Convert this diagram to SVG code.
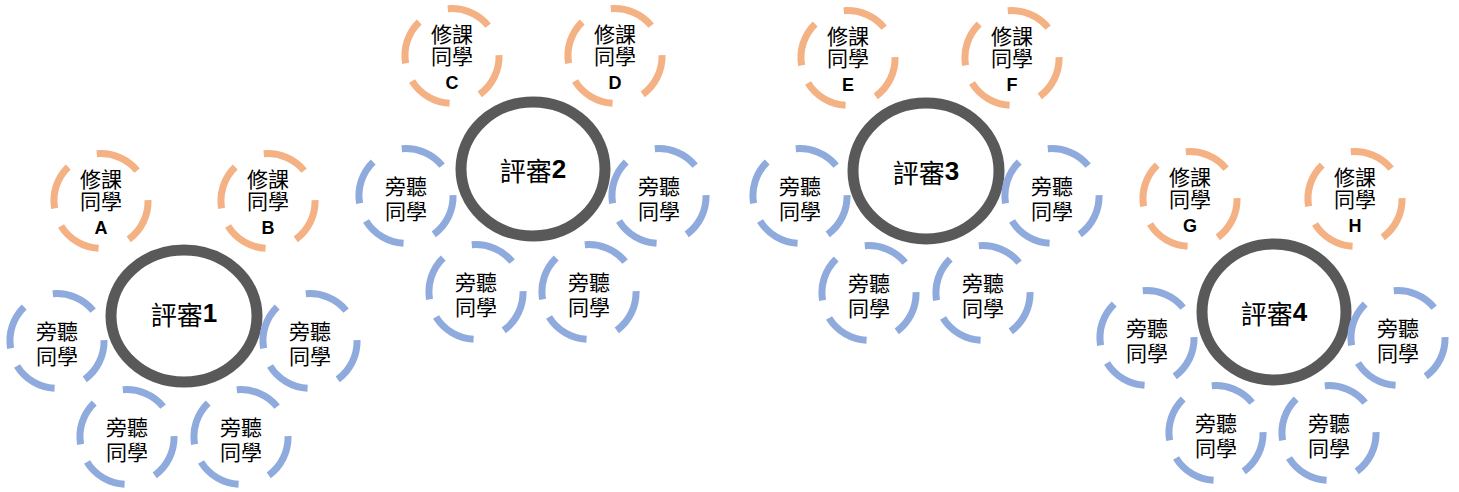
<svg xmlns="http://www.w3.org/2000/svg" xmlns:xlink="http://www.w3.org/1999/xlink" width="1459" height="492" viewBox="0 0 1459 492">
<defs>
<style>
.judge{fill:#fff;stroke:#595959;stroke-width:11}
.ring{fill:none;stroke-width:7;stroke-dasharray:55 39}
.or{stroke:#F4B183}
.bl{stroke:#8FAADC}
text{font-family:"Noto Sans CJK TC","Noto Sans CJK SC",sans-serif;font-size:21px;fill:#000;text-anchor:middle;dominant-baseline:central}
.jt{font-size:26px}
.b{font-family:"Liberation Sans","Noto Sans",sans-serif;font-weight:bold}
.lt{font-size:18px}
</style>
<path id="ring" pathLength="360" d="M -46.42 7.35 A 47 47 0 1 1 46.42 -7.35 A 47 47 0 1 1 -46.42 7.35"/>
</defs>
<rect width="1459" height="492" fill="#fff"/>
<g id="connectors"/>

<!-- Group 1 -->
<g id="judge1"><ellipse class="judge" cx="184" cy="316" rx="73" ry="66"/><text class="jt" x="184" y="313">評審<tspan class="b">1</tspan></text></g>
<g id="studentA"><use xlink:href="#ring" class="ring or" x="101" y="201"/><text x="101" y="178">修課<tspan x="101" dy="22">同學</tspan><tspan class="b lt" x="101" dy="28">A</tspan></text></g>
<g id="studentB"><use xlink:href="#ring" class="ring or" x="268" y="201"/><text x="268" y="178">修課<tspan x="268" dy="22">同學</tspan><tspan class="b lt" x="268" dy="28">B</tspan></text></g>
<g id="aud1a"><use xlink:href="#ring" class="ring bl" x="57" y="341"/><text x="57" y="330">旁聽<tspan x="57" dy="25">同學</tspan></text></g>
<g id="aud1b"><use xlink:href="#ring" class="ring bl" x="310" y="341"/><text x="310" y="330">旁聽<tspan x="310" dy="25">同學</tspan></text></g>
<g id="aud1c"><use xlink:href="#ring" class="ring bl" x="127" y="437"/><text x="127" y="426">旁聽<tspan x="127" dy="25">同學</tspan></text></g>
<g id="aud1d"><use xlink:href="#ring" class="ring bl" x="241" y="437"/><text x="241" y="426">旁聽<tspan x="241" dy="25">同學</tspan></text></g>

<!-- Group 2 -->
<g id="judge2"><ellipse class="judge" cx="533" cy="169" rx="72" ry="67"/><text class="jt" x="533" y="169">評審<tspan class="b">2</tspan></text></g>
<g id="studentC"><use xlink:href="#ring" class="ring or" x="452" y="56"/><text x="452" y="33">修課<tspan x="452" dy="22">同學</tspan><tspan class="b lt" x="452" dy="28">C</tspan></text></g>
<g id="studentD"><use xlink:href="#ring" class="ring or" x="615" y="56"/><text x="615" y="33">修課<tspan x="615" dy="22">同學</tspan><tspan class="b lt" x="615" dy="28">D</tspan></text></g>
<g id="aud2a"><use xlink:href="#ring" class="ring bl" x="406" y="196"/><text x="406" y="185">旁聽<tspan x="406" dy="25">同學</tspan></text></g>
<g id="aud2b"><use xlink:href="#ring" class="ring bl" x="659" y="196"/><text x="659" y="185">旁聽<tspan x="659" dy="25">同學</tspan></text></g>
<g id="aud2c"><use xlink:href="#ring" class="ring bl" x="476" y="292"/><text x="476" y="281">旁聽<tspan x="476" dy="25">同學</tspan></text></g>
<g id="aud2d"><use xlink:href="#ring" class="ring bl" x="589" y="292"/><text x="589" y="281">旁聽<tspan x="589" dy="25">同學</tspan></text></g>

<!-- Group 3 -->
<g id="judge3"><ellipse class="judge" cx="926" cy="171" rx="73" ry="68"/><text class="jt" x="926" y="171">評審<tspan class="b">3</tspan></text></g>
<g id="studentE"><use xlink:href="#ring" class="ring or" x="848" y="58"/><text x="848" y="35">修課<tspan x="848" dy="22">同學</tspan><tspan class="b lt" x="848" dy="28">E</tspan></text></g>
<g id="studentF"><use xlink:href="#ring" class="ring or" x="1012" y="58"/><text x="1012" y="35">修課<tspan x="1012" dy="22">同學</tspan><tspan class="b lt" x="1012" dy="28">F</tspan></text></g>
<g id="aud3a"><use xlink:href="#ring" class="ring bl" x="800" y="196"/><text x="800" y="185">旁聽<tspan x="800" dy="25">同學</tspan></text></g>
<g id="aud3b"><use xlink:href="#ring" class="ring bl" x="1052" y="196"/><text x="1052" y="185">旁聽<tspan x="1052" dy="25">同學</tspan></text></g>
<g id="aud3c"><use xlink:href="#ring" class="ring bl" x="869" y="293"/><text x="869" y="282">旁聽<tspan x="869" dy="25">同學</tspan></text></g>
<g id="aud3d"><use xlink:href="#ring" class="ring bl" x="983" y="293"/><text x="983" y="282">旁聽<tspan x="983" dy="25">同學</tspan></text></g>

<!-- Group 4 -->
<g id="judge4"><ellipse class="judge" cx="1274" cy="312" rx="72" ry="68"/><text class="jt" x="1274" y="312">評審<tspan class="b">4</tspan></text></g>
<g id="studentG"><use xlink:href="#ring" class="ring or" x="1190" y="199"/><text x="1190" y="176">修課<tspan x="1190" dy="22">同學</tspan><tspan class="b lt" x="1190" dy="28">G</tspan></text></g>
<g id="studentH"><use xlink:href="#ring" class="ring or" x="1355" y="199"/><text x="1355" y="176">修課<tspan x="1355" dy="22">同學</tspan><tspan class="b lt" x="1355" dy="28">H</tspan></text></g>
<g id="aud4a"><use xlink:href="#ring" class="ring bl" x="1147" y="338"/><text x="1147" y="327">旁聽<tspan x="1147" dy="25">同學</tspan></text></g>
<g id="aud4b"><use xlink:href="#ring" class="ring bl" x="1398" y="338"/><text x="1398" y="327">旁聽<tspan x="1398" dy="25">同學</tspan></text></g>
<g id="aud4c"><use xlink:href="#ring" class="ring bl" x="1216" y="433"/><text x="1216" y="422">旁聽<tspan x="1216" dy="25">同學</tspan></text></g>
<g id="aud4d"><use xlink:href="#ring" class="ring bl" x="1329" y="433"/><text x="1329" y="422">旁聽<tspan x="1329" dy="25">同學</tspan></text></g>
</svg>
